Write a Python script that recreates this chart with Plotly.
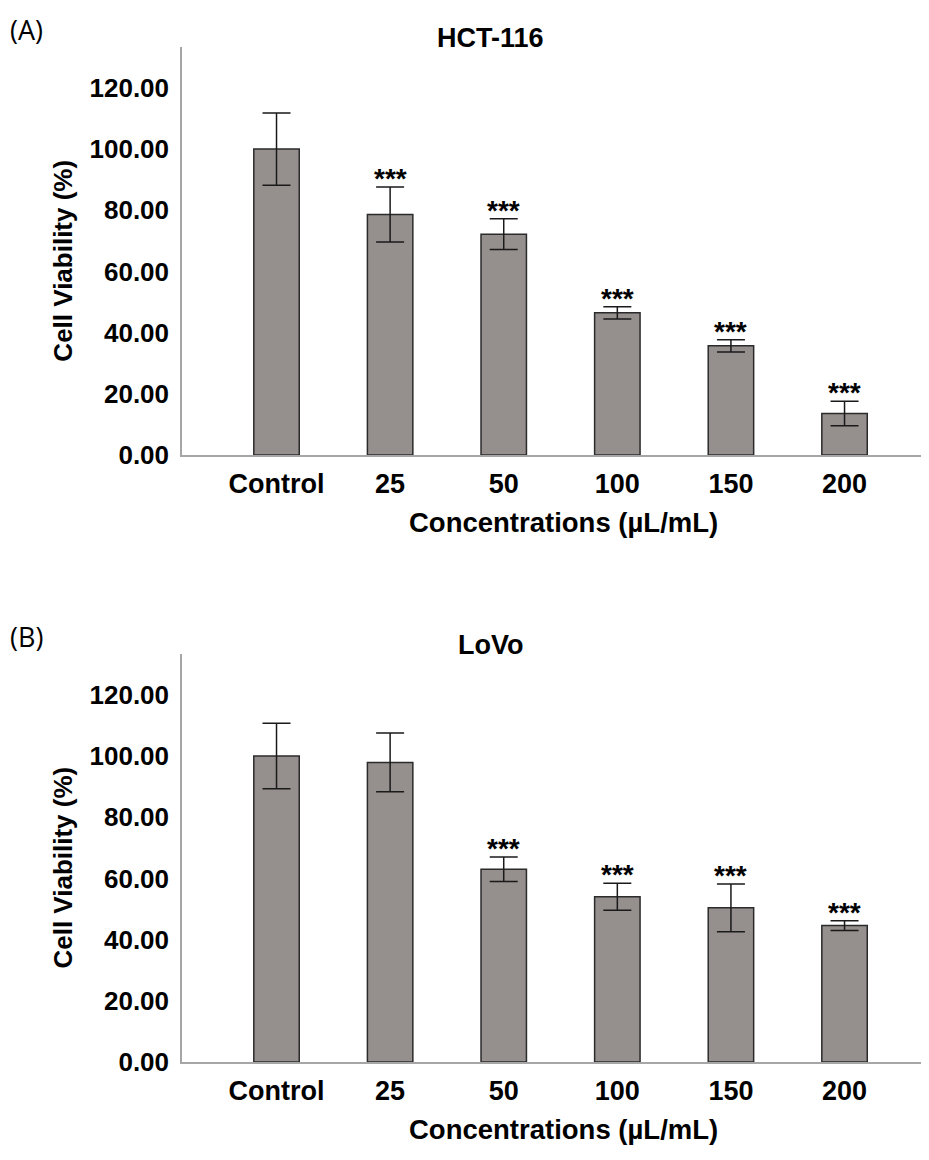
import plotly.graph_objects as go

categories = ["Control", "25", "50", "100", "150", "200"]

hct_mean = [100.0, 78.6, 72.2, 46.5, 35.7, 13.6]
hct_err = [11.8, 9.0, 5.0, 2.0, 2.0, 4.0]
hct_sig = ["", "***", "***", "***", "***", "***"]

lovo_mean = [100.0, 97.9, 63.0, 54.0, 50.4, 44.6]
lovo_err = [10.7, 9.6, 4.0, 4.4, 7.8, 1.6]
lovo_sig = ["", "", "***", "***", "***", "***"]

y_ticks = [0, 20, 40, 60, 80, 100, 120]
y_ticklabels = ["0.00", "20.00", "40.00", "60.00", "80.00", "100.00", "120.00"]

# page has an 8px body margin; work in page pixels and convert
OFF = 8
W, H = 929 - 2 * OFF, 1160 - 2 * OFF


def px(xp):
    return (xp - OFF) / W


def py(yp):
    return 1 - (yp - OFF) / H


FONT = "Liberation Sans, Arial, sans-serif"
BAR_COLOR = "#958f8d"
EDGE = "#2b2b2b"
AXIS_GRAY = "#a6a6a6"

panels = [
    dict(mean=hct_mean, err=hct_err, sig=hct_sig, title="HCT-116", label="(A)",
         top=48, bottom=461, xa="x", ya="y"),
    dict(mean=lovo_mean, err=lovo_err, sig=lovo_sig, title="LoVo", label="(B)",
         top=663, bottom=1076, xa="x2", ya="y2"),
]

fig = go.Figure()
annotations = []
layout = {}

for i, p in enumerate(panels):
    fig.add_trace(go.Bar(
        x=categories, y=p["mean"],
        xaxis=p["xa"], yaxis=p["ya"],
        width=0.4,
        marker=dict(color=BAR_COLOR, line=dict(color=EDGE, width=1.5)),
        error_y=dict(type="data", array=p["err"], visible=True,
                     color="#1a1a1a", thickness=1.5, width=14),
        showlegend=False,
    ))
    sfx = "" if i == 0 else "2"
    layout["xaxis" + sfx] = dict(
        domain=[px(182), 1.0], anchor="y" + sfx,
        range=[-0.832, 5.673], type="category",
        showline=True, linecolor=AXIS_GRAY, linewidth=1.5,
        ticks="", showgrid=False, zeroline=False,
        tickfont=dict(family=FONT, size=27, color="#000000", weight="bold"),
        ticklabelstandoff=4,
    )
    layout["yaxis" + sfx] = dict(
        domain=[py(p["bottom"]), py(p["top"])], anchor="x" + sfx,
        range=[0, 133.2],
        tickvals=y_ticks, ticktext=y_ticklabels,
        showline=True, linecolor=AXIS_GRAY, linewidth=1.5,
        ticks="", showgrid=False, zeroline=False,
        tickfont=dict(family=FONT, size=26, color="#000000", weight="bold"),
        ticklabelstandoff=6,
    )
    # significance marks
    for j, s in enumerate(p["sig"]):
        if s:
            annotations.append(dict(
                x=j, y=p["mean"][j] + p["err"][j],
                xref=p["xa"], yref=p["ya"],
                text="<b>" + s + "</b>", showarrow=False,
                xanchor="center", yanchor="bottom", yshift=-9,
                font=dict(family=FONT, size=28, color="#000000"),
            ))
    # panel title
    annotations.append(dict(
        x=px(490), y=py(p["top"] - 10), xref="paper", yref="paper",
        text="<b>" + p["title"] + "</b>", showarrow=False,
        xanchor="center", yanchor="middle",
        font=dict(family=FONT, size=27, color="#000000"),
    ))
    # x-axis title
    annotations.append(dict(
        x=px(563), y=py(p["bottom"] + 68), xref="paper", yref="paper",
        text="<b>Concentrations (µL/mL)</b>", showarrow=False,
        xanchor="center", yanchor="middle",
        font=dict(family=FONT, size=27.5, color="#000000"),
    ))
    # y-axis title
    annotations.append(dict(
        x=px(63), y=py(p["top"] + 216), xref="paper", yref="paper",
        text="<b>Cell Viability (%)</b>", showarrow=False, textangle=-90,
        xanchor="center", yanchor="middle",
        font=dict(family=FONT, size=26, color="#000000"),
    ))
    # panel label
    annotations.append(dict(
        x=px(8), y=py(p["top"] - 18), xref="paper", yref="paper",
        text=p["label"], showarrow=False,
        xanchor="left", yanchor="middle",
        font=dict(family="Open Sans, Noto Sans, sans-serif", size=27, color="#000000"),
    ))

fig.update_layout(
    width=W, height=H,
    margin=dict(l=0, r=0, t=0, b=0),
    paper_bgcolor="white", plot_bgcolor="white",
    annotations=annotations,
    bargap=0.6,
    **layout,
)

fig.write_html("out.html")
